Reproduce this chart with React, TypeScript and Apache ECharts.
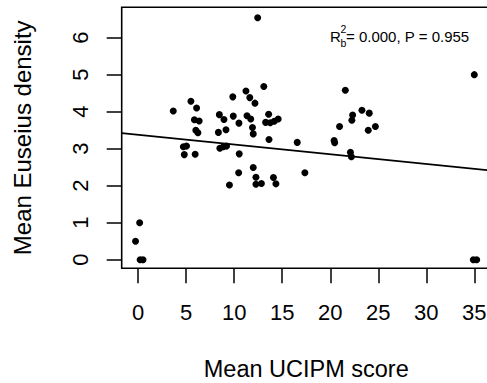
import React, { useEffect, useRef } from "react";
import * as echarts from "echarts";

const FONT = "'Liberation Sans', Arial, Helvetica, sans-serif";

// Scatter points: [Mean UCIPM score, Mean Euseius density]
const xValues = [
  -0.28, 0.15, 0.2, 0.5,
  34.9, 35.25, 35.0,
  3.65, 5.49, 6.08, 5.85, 6.35, 6.0, 6.22, 4.7, 5.03, 4.8, 5.93,
  8.45, 8.93, 8.35, 9.14, 8.5, 8.86, 9.2, 9.85, 9.9, 10.49, 10.52, 10.46, 9.5,
  11.22, 11.62, 12.16, 11.33, 11.72, 11.9, 11.98, 11.98, 12.26, 12.26, 12.83, 12.44,
  13.08, 13.58, 13.27, 13.75, 14.17, 14.58, 13.62, 14.08, 14.34, 16.56, 17.36,
  20.4, 20.46, 20.97, 21.57, 22.33, 22.25, 23.3, 24.06, 23.96, 24.7, 22.1, 22.2,
];
const yValues = [
  0.5, 1.0, 0, 0,
  0, 0, 5.0,
  4.02, 4.28, 4.1, 3.78, 3.75, 3.5, 3.43, 3.05, 3.07, 2.84, 2.85,
  3.92, 3.79, 3.44, 3.51, 3.01, 3.05, 3.07, 4.4, 3.88, 3.69, 2.86, 2.35, 2.02,
  4.56, 4.38, 4.23, 3.89, 3.8, 3.57, 3.4, 2.49, 2.23, 2.04, 2.06, 6.54,
  4.68, 3.93, 3.71, 3.7, 3.74, 3.8, 3.25, 2.22, 2.05, 3.17, 2.35,
  3.22, 3.16, 3.6, 4.58, 3.91, 3.77, 4.04, 3.96, 3.5, 3.6, 2.9, 2.78,
];

const xTicks = [0, 5, 10, 15, 20, 25, 30, 35];
const yTicks = [0, 1, 2, 3, 4, 5, 6];
const xRange = [-1.72, 36.72];
const yRange = [-0.232, 6.82];

// Fitted regression line
const fitIntercept = 3.375;
const fitSlope = -0.0263;

const annotationMain = "= 0.000, P = 0.955";

export default function App() {
  const ref = useRef<HTMLDivElement>(null);
  useEffect(() => {
    if (!ref.current) return;
    const chart = echarts.init(ref.current, undefined, { renderer: "svg" });
    const points = xValues.map((x, i) => [x, yValues[i]]);
    const fitLine = xRange.map((x) => [x, fitIntercept + fitSlope * x]);
    chart.setOption({
      animation: false,
      backgroundColor: "#ffffff",
      grid: {
        left: 121.7,
        top: 7.3,
        width: 369.1,
        height: 261,
        show: true,
        borderColor: "#000",
        borderWidth: 1.6,
        backgroundColor: "transparent",
        containLabel: false,
        outerBoundsMode: "none",
      },
      xAxis: {
        type: "value",
        min: xRange[0],
        max: xRange[1],
        axisLine: { show: false, onZero: false },
        splitLine: { show: false },
        axisTick: {
          show: true,
          length: 15,
          customValues: xTicks,
          lineStyle: { color: "#000", width: 1.5 },
        },
        axisLabel: {
          customValues: xTicks,
          fontSize: 22,
          color: "#000",
          fontFamily: FONT,
          margin: 33,
        },
        name: "Mean UCIPM score",
        nameLocation: "middle",
        nameGap: 89,
        nameTextStyle: { fontSize: 23.5, color: "#000", fontFamily: FONT },
      },
      yAxis: {
        type: "value",
        min: yRange[0],
        max: yRange[1],
        axisLine: { show: false, onZero: false },
        splitLine: { show: false },
        axisTick: {
          show: true,
          length: 15,
          customValues: yTicks,
          lineStyle: { color: "#000", width: 1.5 },
        },
        axisLabel: {
          customValues: yTicks,
          fontSize: 22,
          color: "#000",
          fontFamily: FONT,
          rotate: 90,
          margin: 30,
        },
        name: "Mean Euseius density",
        nameLocation: "middle",
        nameGap: 87,
        nameTextStyle: { fontSize: 24, color: "#000", fontFamily: FONT },
      },
      series: [
        {
          type: "scatter",
          data: points,
          symbol: "circle",
          symbolSize: 7,
          itemStyle: { color: "#000", opacity: 1 },
        },
        {
          type: "line",
          data: fitLine,
          showSymbol: false,
          symbol: "none",
          lineStyle: { color: "#000", width: 1.7 },
          z: 3,
        },
      ],
      graphic: [
        {
          type: "text",
          left: 330,
          top: 29,
          style: { text: "R", fontSize: 15, fill: "#000", fontFamily: FONT },
        },
        {
          type: "text",
          left: 340.5,
          top: 23,
          style: { text: "2", fontSize: 10.5, fill: "#000", fontFamily: FONT },
        },
        {
          type: "text",
          left: 340.5,
          top: 37,
          style: { text: "b", fontSize: 10.5, fill: "#000", fontFamily: FONT },
        },
        {
          type: "text",
          left: 346,
          top: 29,
          style: { text: annotationMain, fontSize: 15, fill: "#000", fontFamily: FONT },
        },
      ],
    });
    return () => chart.dispose();
  }, []);
  return (
    <div
      style={{
        position: "fixed",
        left: 0,
        top: 0,
        width: 487,
        height: 383,
        overflow: "hidden",
        background: "#fff",
      }}
    >
      <div ref={ref} style={{ width: 494, height: 383 }} />
    </div>
  );
}
